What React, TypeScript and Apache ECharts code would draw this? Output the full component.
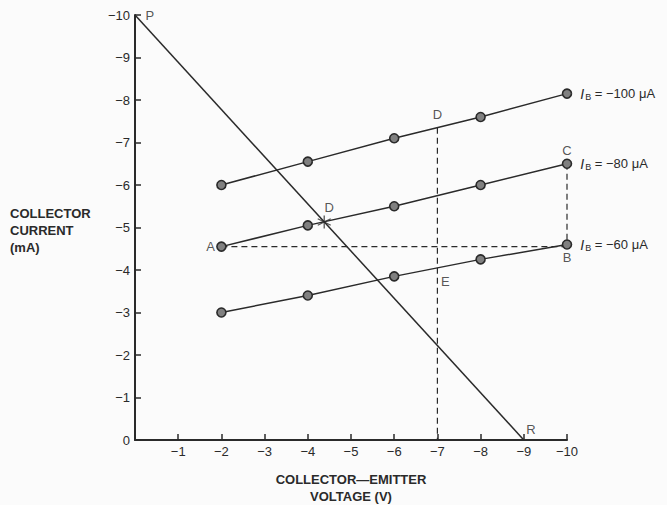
import React, { useEffect, useRef } from "react";
import * as echarts from "echarts";

const vce = [-2, -4, -6, -8, -10];
const ib100 = [-6.0, -6.55, -7.1, -7.6, -8.15];
const ib80 = [-4.55, -5.05, -5.5, -6.0, -6.5];
const ib60 = [-3.0, -3.4, -3.85, -4.25, -4.6];
const seriesNames = ["−100", "−80", "−60"];
const loadLine = [[0, -10], [-9, 0]];
const qPoint = [-4.38, -5.13];
const dashAB = [[-2, -4.55], [-10, -4.55]];
const dashCB = [[-10, -6.5], [-10, -4.6]];
const dashDE = [[-7, -7.35], [-7, 0]];
const pointLabels = [
  { name: "A", value: [-2, -4.55], pos: "left", offset: [0, 0] },
  { name: "B", value: [-10, -4.6], pos: "bottom", offset: [0, 0] },
  { name: "C", value: [-10, -6.5], pos: "top", offset: [0, 0] },
  { name: "D", value: [-7, -7.35], pos: "top", offset: [0, 0] },
  { name: "D", value: [-4.38, -5.13], pos: "top", offset: [5, -1] },
  { name: "E", value: [-7, -3.72], pos: "right", offset: [-3, 0] },
  { name: "P", value: [0, -10], pos: "right", offset: [4, 0] },
  { name: "R", value: [-9, 0], pos: "right", offset: [-4, -11] },
];

const FONT = "'Liberation Sans', Arial, sans-serif";
const INK = "#2a2a2a";

function fmt(v: number) {
  return v === 0 ? "0" : "−" + Math.abs(v);
}

export default function App() {
  const ref = useRef<HTMLDivElement>(null);
  useEffect(() => {
    const chart = echarts.init(ref.current!, null, { renderer: "svg" });
    const curve = (vals: number[], name: string) => ({
      type: "line",
      data: vce.map((x, i) => [x, vals[i]]),
      symbol: "circle",
      symbolSize: 9,
      lineStyle: { color: INK, width: 1.5 },
      itemStyle: { color: "#808080", borderColor: INK, borderWidth: 1.6 },
      label: {
        show: true,
        position: "right",
        distance: 8,
        formatter: (p: any) =>
          p.dataIndex === vce.length - 1 ? `{i|I}{s|B}{t| = ${name} μA}` : "",
        rich: {
          i: { fontStyle: "italic", fontSize: 14, fontFamily: FONT, color: INK },
          s: { fontSize: 9, fontFamily: FONT, color: INK, padding: [7, 0, 0, 1] },
          t: { fontSize: 13, fontFamily: FONT, color: INK },
        },
      },
      z: 3,
    });
    const dashed = (data: number[][]) => ({
      type: "line",
      data,
      symbol: "none",
      lineStyle: { color: INK, width: 1.2, type: [6, 4] },
      z: 2,
    });
    chart.setOption({
      animation: false,
      backgroundColor: "#fbfbfb",
      grid: { left: 135, right: 100, top: 15, bottom: 65, outerBoundsMode: "none", containLabel: false },
      xAxis: {
        type: "value",
        min: -10,
        max: 0,
        interval: 1,
        inverse: true,
        splitLine: { show: false },
        axisLine: { lineStyle: { color: INK, width: 2 } },
        axisTick: { inside: true, length: 6, lineStyle: { color: INK, width: 1.5 } },
        axisLabel: {
          margin: 5,
          color: INK,
          fontFamily: FONT,
          fontSize: 13,
          formatter: (v: number) => (v === 0 ? "" : fmt(v)),
        },
        name: "COLLECTOR—EMITTER\nVOLTAGE (V)",
        nameLocation: "middle",
        nameGap: 31,
        nameTextStyle: { color: INK, fontFamily: FONT, fontSize: 13, fontWeight: "bold", lineHeight: 17 },
      },
      yAxis: {
        type: "value",
        min: -10,
        max: 0,
        interval: 1,
        inverse: true,
        splitLine: { show: false },
        axisLine: { lineStyle: { color: INK, width: 2 } },
        axisTick: { inside: true, length: 6, lineStyle: { color: INK, width: 1.5 } },
        axisLabel: { margin: 5, color: INK, fontFamily: FONT, fontSize: 13, formatter: fmt },
      },
      graphic: [
        {
          type: "text",
          left: 10,
          top: 205,
          style: {
            text: "COLLECTOR\nCURRENT\n(mA)",
            align: "center",
            fill: INK,
            font: `bold 13px ${FONT}`,
            lineHeight: 17,
          },
        },
      ],
      series: [
        {
          type: "line",
          data: loadLine,
          symbol: "none",
          lineStyle: { color: INK, width: 1.5 },
          z: 2,
        },
        dashed(dashAB),
        dashed(dashCB),
        dashed(dashDE),
        curve(ib100, seriesNames[0]),
        curve(ib80, seriesNames[1]),
        curve(ib60, seriesNames[2]),
        {
          type: "scatter",
          data: [qPoint],
          symbol: "path://M5,0L5,10M0.7,2.5L9.3,7.5M0.7,7.5L9.3,2.5",
          symbolSize: 13,
          itemStyle: { color: "none", borderColor: INK, borderWidth: 1.3 },
          z: 4,
        },
        {
          type: "scatter",
          symbolSize: 1,
          itemStyle: { color: "transparent" },
          data: pointLabels.map((p) => ({
            name: p.name,
            value: p.value,
            label: { position: p.pos, offset: p.offset, color: INK },
          })),
          label: {
            show: true,
            formatter: "{b}",
            color: INK,
            textBorderWidth: 0,
            fontFamily: FONT,
            fontSize: 13,
            distance: 6,
          },
          emphasis: { disabled: true },
          z: 5,
        },
      ],
    });
    return () => chart.dispose();
  }, []);
  return (
    <div
      ref={ref}
      style={{ position: "fixed", left: 0, top: 0, width: 667, height: 505 }}
    />
  );
}
